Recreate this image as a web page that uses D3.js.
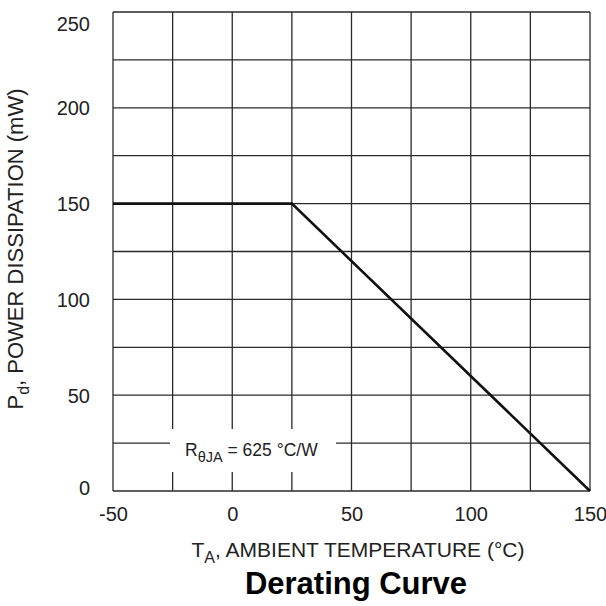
<!DOCTYPE html>
<html><head><meta charset="utf-8">
<script src="https://cdn.jsdelivr.net/npm/d3@7"></script>
<style>
html,body{margin:0;padding:0;background:#fff;}
svg{display:block;font-family:"Liberation Sans",Arial,sans-serif;}
</style></head>
<body><svg id="c" width="606" height="606"></svg>
<script>
const xTicks = [-50, 0, 50, 100, 150];
const yTicks = [0, 50, 100, 150, 200, 250];
const xGrid = [-50, -25, 0, 25, 50, 75, 100, 125, 150];
const yGrid = [0, 25, 50, 75, 100, 125, 150, 175, 200, 225, 250];
const tempC = [-50, 25, 150];
const powerMW = [150, 150, 0];
const xTitle = ["T", "A", ", AMBIENT TEMPERATURE (°C)"];
const yTitle = ["P", "d", ", POWER DISSIPATION (mW)"];
const chartTitle = "Derating Curve";
const noteParts = ["R", "θJA", " = 625 °C/W"];

const svg = d3.select("#c");
const L = 113, R = 590, T = 12, B = 491;
const x = d3.scaleLinear().domain([-50, 150]).range([L, R]);
const y = d3.scaleLinear().domain([0, 250]).range([B, T]);
const gridColor = "#2a2a2a";
const ff = "Liberation Sans, Arial, sans-serif";

// grid
const g = svg.append("g");
g.selectAll("line.v").data(xGrid).join("line")
  .attr("x1", d => x(d)).attr("x2", d => x(d)).attr("y1", T).attr("y2", B)
  .attr("stroke", gridColor).attr("stroke-width", 1.3);
g.selectAll("line.h").data(yGrid).join("line")
  .attr("y1", d => y(d)).attr("y2", d => y(d)).attr("x1", L).attr("x2", R)
  .attr("stroke", gridColor).attr("stroke-width", 1.3);

// curve
const line = d3.line().x((d, i) => x(tempC[i])).y(d => y(d));
svg.append("path").datum(powerMW).attr("d", line)
  .attr("fill", "none").attr("stroke", "#111").attr("stroke-width", 2.6)
  .attr("stroke-linejoin", "miter");

// note box
const nb = svg.append("g");
nb.append("rect").attr("x", 170).attr("y", 429).attr("width", 166).attr("height", 43).attr("fill", "#fff");
const nt = nb.append("text").attr("x", 185).attr("y", 456).attr("font-size", 17.5).attr("fill", "#222");
nt.append("tspan").text(noteParts[0]);
nt.append("tspan").attr("dy", 6).attr("font-size", 14.5).text(noteParts[1]);
nt.append("tspan").attr("dy", -6).text(noteParts[2]);

// axes labels
const xa = d3.axisBottom(x).tickValues(xTicks).tickSize(0).tickPadding(0).tickFormat(d => String(d));
const xg = svg.append("g").attr("transform", `translate(0,${B})`).call(xa);
xg.select(".domain").remove();
xg.selectAll("text").attr("font-size", 20).attr("fill", "#222").attr("dy", null).attr("y", 30)
  .attr("font-family", ff);

const ya = d3.axisLeft(y).tickValues(yTicks).tickSize(0).tickPadding(0).tickFormat(d => String(d));
const yg = svg.append("g").attr("transform", `translate(90,0)`).call(ya);
yg.select(".domain").remove();
yg.selectAll("text").attr("font-size", 20).attr("fill", "#222")
  .attr("font-family", ff)
  .attr("dy", d => d === 250 ? "0.9em" : d === 0 ? "0.15em" : "0.35em");

// x title
const xt = svg.append("text").attr("x", 358).attr("y", 557).attr("text-anchor", "middle")
  .attr("font-size", 21).attr("fill", "#222");
xt.append("tspan").text(xTitle[0]);
xt.append("tspan").attr("dy", 6).attr("font-size", 16).text(xTitle[1]);
xt.append("tspan").attr("dy", -6).text(xTitle[2]);

// y title
const yt = svg.append("text").attr("transform", "translate(23,249) rotate(-90)").attr("text-anchor", "middle")
  .attr("font-size", 22).attr("fill", "#222");
yt.append("tspan").text(yTitle[0]);
yt.append("tspan").attr("dy", 6).attr("font-size", 16).text(yTitle[1]);
yt.append("tspan").attr("dy", -6).text(yTitle[2]);

// chart title
svg.append("text").attr("x", 356).attr("y", 594).attr("text-anchor", "middle")
  .attr("font-size", 31).attr("font-weight", "bold").attr("fill", "#000").text(chartTitle);
</script></body></html>
